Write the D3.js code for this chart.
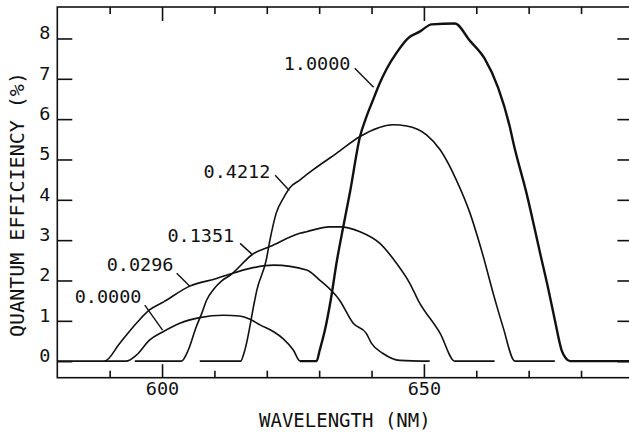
<!DOCTYPE html>
<html>
<head>
<meta charset="utf-8">
<script src="https://cdn.jsdelivr.net/npm/d3@7"></script>
<style>
  body { margin: 0; background: #fff; }
  svg text { font-family: "DejaVu Sans Mono", "Liberation Mono", monospace; fill: #111; }
</style>
</head>
<body>
<div id="chart"></div>
<script>
// curve values: [wavelength nm, quantum efficiency %]
const curve0000 = [[589,0],[593.1,0],[595.1,0.15],[597.6,0.52],[600.2,0.73],[603.4,0.94],[607.2,1.08],[611.7,1.14],[614.8,1.12],[616.8,1.04],[618.7,0.9],[621.3,0.73],[623.1,0.56],[625.1,0.27],[626.3,0.01],[629.5,0]];
const curve0296 = [[580,0],[589,0],[591.9,0.44],[595.1,0.94],[597.6,1.27],[600.3,1.47],[605.3,1.86],[610.4,2.05],[613,2.16],[616.8,2.3],[621.3,2.38],[627.6,2.26],[630.1,2.01],[633.9,1.51],[636.5,0.94],[639,0.69],[640,0.44],[642.2,0.19],[645.4,0.02],[651.1,0]];
const curve1351 = [[594.8,0],[603.7,0],[605,0.27],[606.5,0.84],[607.6,1.19],[608.5,1.51],[609.9,1.79],[611.4,1.99],[613,2.13],[617.5,2.67],[620.6,2.84],[626.3,3.17],[627.6,3.21],[632,3.33],[634,3.33],[637.8,3.21],[641.6,2.92],[644.8,2.42],[647.3,1.93],[648.9,1.51],[653.1,0.69],[655.9,0],[663.5,0]];
const curve4212 = [[607.2,0],[615,0],[615.8,0.27],[617.7,1.51],[618.1,1.76],[619.9,2.51],[620.6,3.0],[621.8,3.67],[623.2,4.05],[624.4,4.3],[626.3,4.49],[628.8,4.74],[633.3,5.15],[637.8,5.57],[644.1,5.86],[646.7,5.83],[650.5,5.61],[653.1,5.24],[656.2,4.49],[658.8,3.67],[661,2.75],[663.6,1.51],[665.1,0.85],[667.4,0],[675,0]];
const curve10000 = [[626.3,0],[629.5,0],[630.1,0.27],[631.1,0.77],[632.2,1.51],[633.4,2.5],[634.6,3.33],[635.9,4.2],[637.8,5.57],[639,6.05],[640.3,6.48],[641.5,6.87],[642.9,7.25],[644.8,7.65],[647,8.01],[649.2,8.17],[651.5,8.35],[655.9,8.37],[658.8,7.94],[661.6,7.5],[664.2,6.77],[666.4,5.81],[667.1,5.4],[669.6,4.16],[672.2,2.67],[673.8,1.76],[675,1.02],[676.3,0.27],[677.1,0.07],[677.9,0],[690,0]];

const seriesNames = ["0.0000", "0.0296", "0.1351", "0.4212", "1.0000"];
const seriesData = [curve0000, curve0296, curve1351, curve4212, curve10000];

// label anchors (data units): text centre, then leader start and end
const labelPos = [[589.7,1.43], [595.8,2.24], [607.4,2.96], [614.3,4.53], [629.6,7.22]];
const leaderFrom = [[596.7,1.39], [602.8,2.18], [614.9,2.92], [621.6,4.61], [636.8,7.26]];
const leaderTo = [[600.1,0.77], [605.3,1.86], [617.1,2.66], [624.3,4.23], [640.4,6.79]];

const xMinor = [590, 610, 620, 630, 640, 660, 670, 680];
const xMajor = [600, 650];
const yTicks = [0, 1, 2, 3, 4, 5, 6, 7, 8];

const W = 629, H = 432;
const x = d3.scaleLinear().domain([580, 690]).range([57.3, 633.4]);
const y = d3.scaleLinear().domain([-0.41, 8.78]).range([377.7, 7]);

const svg = d3.select("#chart").append("svg")
    .attr("width", W)
    .attr("height", H)
    .attr("viewBox", `0 0 ${W} ${H}`);

// frame
svg.append("rect")
    .attr("x", x(580)).attr("y", y(8.78))
    .attr("width", x(690) - x(580)).attr("height", y(-0.41) - y(8.78))
    .attr("fill", "none").attr("stroke", "#111").attr("stroke-width", 1.6);

function styleAxis(g) {
    g.select(".domain").remove();
    g.selectAll(".tick line").attr("stroke", "#111").attr("stroke-width", 1.6);
}

// x ticks, bottom and top, pointing inwards
svg.append("g").attr("transform", `translate(0,${y(-0.41)})`)
    .call(d3.axisBottom(x).tickValues(xMinor).tickSizeInner(-7).tickSizeOuter(0).tickFormat(""))
    .call(styleAxis);
svg.append("g").attr("transform", `translate(0,${y(-0.41)})`)
    .call(d3.axisBottom(x).tickValues(xMajor).tickSizeInner(-13.5).tickSizeOuter(0).tickPadding(4.5).tickFormat(d3.format("d")))
    .call(styleAxis)
    .call(g => g.selectAll("text").attr("font-size", 18.5).attr("font-family", null));
svg.append("g").attr("transform", `translate(0,${y(8.78)})`)
    .call(d3.axisTop(x).tickValues(xMinor).tickSizeInner(-7).tickSizeOuter(0).tickFormat(""))
    .call(styleAxis);
svg.append("g").attr("transform", `translate(0,${y(8.78)})`)
    .call(d3.axisTop(x).tickValues(xMajor).tickSizeInner(-14).tickSizeOuter(0).tickFormat(""))
    .call(styleAxis);

// y ticks, left and right
svg.append("g").attr("transform", `translate(${x(580)},0)`)
    .call(d3.axisLeft(y).tickValues(yTicks).tickSizeInner(-15).tickSizeOuter(0).tickPadding(7).tickFormat(d3.format("d")))
    .call(styleAxis)
    .call(g => g.selectAll("text").attr("font-size", 18.5).attr("font-family", null).attr("dy", "0.02em"));
svg.append("g").attr("transform", `translate(${x(690)},0)`)
    .call(d3.axisRight(y).tickValues(yTicks).tickSizeInner(-16).tickSizeOuter(0).tickFormat(""))
    .call(styleAxis);

// axis titles
svg.append("text")
    .attr("x", (x(580) + x(690)) / 2 - 0.5).attr("y", 426.5)
    .attr("text-anchor", "middle").attr("font-size", 19)
    .text("WAVELENGTH (NM)");
svg.append("text")
    .attr("transform", `translate(23.5,204.5) rotate(-90)`)
    .attr("text-anchor", "middle").attr("font-size", 20)
    .text("QUANTUM EFFICIENCY (%)");

// curves
const line = d3.line()
    .x(d => x(d[0]))
    .y(d => y(d[1]))
    .curve(d3.curveMonotoneX);

svg.selectAll("path.curve")
    .data(seriesData)
    .enter()
    .append("path")
    .attr("class", "curve")
    .attr("d", line)
    .attr("fill", "none")
    .attr("stroke", "#111")
    .attr("stroke-width", (d, i) => i === 4 ? 2.4 : 1.6)
    .attr("stroke-linejoin", "round");

// curve labels with leader lines
svg.selectAll("line.leader")
    .data(seriesNames)
    .enter()
    .append("line")
    .attr("class", "leader")
    .attr("x1", (d, i) => x(leaderFrom[i][0])).attr("y1", (d, i) => y(leaderFrom[i][1]))
    .attr("x2", (d, i) => x(leaderTo[i][0])).attr("y2", (d, i) => y(leaderTo[i][1]))
    .attr("stroke", "#111").attr("stroke-width", 1.4);

svg.selectAll("text.label")
    .data(seriesNames)
    .enter()
    .append("text")
    .attr("class", "label")
    .attr("x", (d, i) => x(labelPos[i][0]))
    .attr("y", (d, i) => y(labelPos[i][1]))
    .attr("text-anchor", "middle")
    .attr("font-size", 18.5)
    .text(d => d);
</script>
</body>
</html>
